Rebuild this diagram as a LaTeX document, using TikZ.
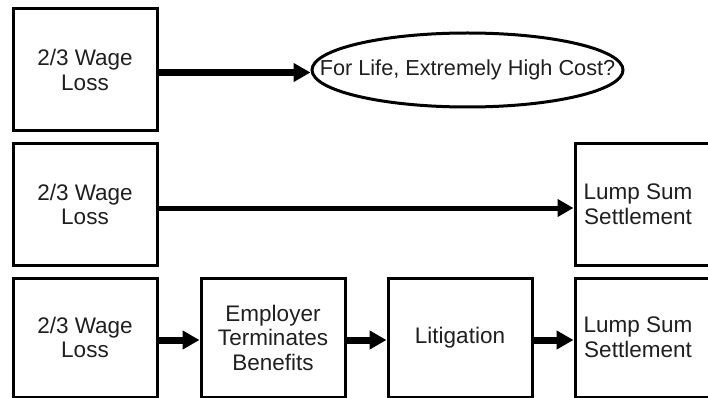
\documentclass[tikz,border=0pt]{standalone}
\usepackage{fontspec}
\setmainfont{Liberation Sans}
\usetikzlibrary{arrows.meta,shapes.geometric}
\begin{document}
\begin{tikzpicture}[x=1pt,y=-1pt,
  every node/.style={font=\fontsize{22.5}{24.5}\selectfont, text=black!88},
  boxnode/.style={draw, line width=3pt, minimum width=144pt, minimum height=122pt, inner sep=0pt, align=center},
  txtnode/.style={inner sep=0pt, align=center},
  bigarrow/.style={line width=7pt, -{Triangle[length=17pt,width=18pt]}},
  midarrow/.style={line width=5pt, -{Triangle[length=16pt,width=17pt]}}]
\useasboundingbox (0,0) rectangle (708,398);
% row 1
\node[boxnode] (w1) at (85,70) {2/3 Wage\\Loss};
\node[draw, ellipse, line width=3pt, minimum width=311pt, minimum height=74pt, inner sep=0pt] (life) at (467.5,70) {};
\node[txtnode, font=\fontsize{21.7}{23}\selectfont] (lifetxt) at (life.center) {For Life, Extremely High Cost?};
\draw[bigarrow] ([yshift=-2.5pt]w1.east) -- ([yshift=-2.5pt]life.west);
% row 2
\node[boxnode] (w2) at (85,204.5) {2/3 Wage\\Loss};
\node[boxnode, minimum height=121pt] (ls2box) at (647,204.5) {};
\node[txtnode] (ls2) at (638,204.5) {Lump Sum\\Settlement};
\draw[midarrow] ([yshift=-3.5pt]w2.east) -- ([yshift=-3.5pt]ls2box.west);
% row 3
\node[boxnode, minimum height=119pt] (w3) at (85,337.5) {2/3 Wage\\Loss};
\node[boxnode, minimum height=119pt] (emp) at (273,337.5) {Employer\\Terminates\\Benefits};
\node[boxnode, minimum height=119pt] (lit) at (460,337.5) {Litigation};
\node[boxnode, minimum height=119pt] (ls3box) at (647,337.5) {};
\node[txtnode] (ls3) at (638,337.5) {Lump Sum\\Settlement};
\draw[bigarrow] ([yshift=-2.5pt]w3.east) -- ([yshift=-2.5pt]emp.west);
\draw[bigarrow] ([yshift=-2.5pt]emp.east) -- ([yshift=-2.5pt]lit.west);
\draw[bigarrow] ([yshift=-2.5pt]lit.east) -- ([yshift=-2.5pt]ls3box.west);
\end{tikzpicture}
\end{document}
